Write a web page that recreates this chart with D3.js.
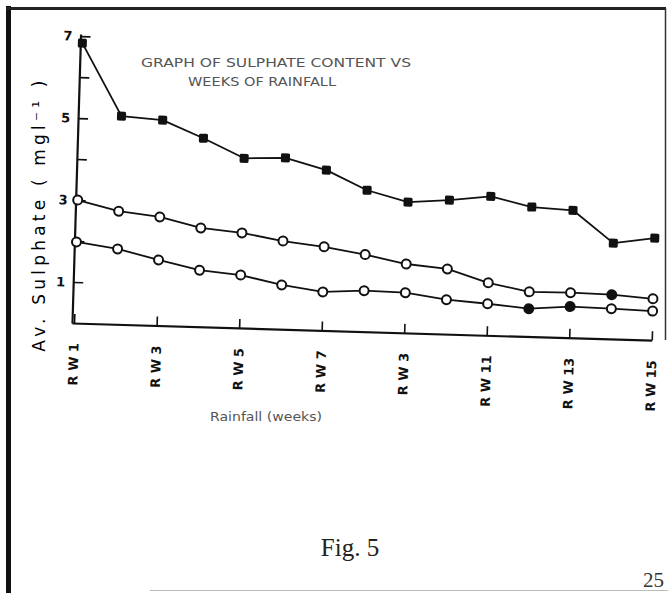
<!DOCTYPE html>
<html>
<head>
<meta charset="utf-8">
<script src="https://cdn.jsdelivr.net/npm/d3@7"></script>
<style>
  html, body { margin: 0; padding: 0; background: #fff; }
  #chart { width: 668px; height: 593px; }
</style>
</head>
<body>
<div id="chart"></div>
<script>
// weeks of rainfall and the average sulphate (mg/l)
let weeks = [1, 2, 3, 4, 5, 6, 7, 8, 9, 10, 11, 12, 13, 14, 15];
let topSeries = [6.83, 5.08, 5.01, 4.60, 4.14, 4.18, 3.91, 3.45, 3.19, 3.27, 3.39, 3.16, 3.11, 2.34, 2.49];
let midSeries = [3.00, 2.76, 2.65, 2.41, 2.32, 2.15, 2.04, 1.88, 1.68, 1.59, 1.28, 1.09, 1.10, 1.08, 1.01];
let lowSeries = [1.98, 1.84, 1.60, 1.38, 1.29, 1.08, 0.94, 1.00, 0.98, 0.84, 0.77, 0.68, 0.76, 0.74, 0.71];
// weeks whose circle is drawn solid
let midFilled = [14];
let lowFilled = [12, 13];

let tickWeeks = [1, 3, 5, 7, 9, 11, 13, 15];
let tickLabels = ["R W 1", "R W 3", "R W 5", "R W 7", "R W 3", "R W 11", "R W 13", "R W 15"];
let yTicks = [1, 2, 3, 4, 5, 6, 7];
let yLabelled = [1, 3, 5, 7];

document.addEventListener("DOMContentLoaded", function() {

  let svgWidth = 668,
      svgHeight = 593;

  let svg = d3.select("#chart")
              .append("svg")
              .attr("width", svgWidth)
              .attr("height", svgHeight)
              .attr("viewBox", `0 0 ${svgWidth} ${svgHeight}`);

  svg.append("rect").attr("width", svgWidth).attr("height", svgHeight).attr("fill", "#fff");

  // scanned page frame
  svg.append("line").attr("x1", 8.5).attr("y1", 6).attr("x2", 8.5).attr("y2", svgHeight)
    .attr("stroke", "#111").attr("stroke-width", 5);
  svg.append("line").attr("x1", 6).attr("y1", 8.5).attr("x2", 666).attr("y2", 8.5)
    .attr("stroke", "#222").attr("stroke-width", 3);
  svg.append("line").attr("x1", 665.5).attr("y1", 8).attr("x2", 665.5).attr("y2", 340)
    .attr("stroke", "#333").attr("stroke-width", 1.5);
  svg.append("line").attr("x1", 150).attr("y1", 590.5).attr("x2", svgWidth).attr("y2", 590.5)
    .attr("stroke", "#bbb").attr("stroke-width", 1);

  let originX = 72,
      originY = 323;

  let x = d3.scaleLinear().domain([0.95, 15]).range([originX, 652]);
  let y = d3.scaleLinear().domain([0, 7.05]).range([originY, originY - 7.05 * 41]);

  // the hand drawn plot sits slightly skewed on the page
  let plot = svg.append("g").attr("transform", `rotate(1.7, ${originX}, ${originY})`);

  let xAxis = d3.axisBottom(x)
    .tickValues(tickWeeks)
    .tickSizeInner(-9)
    .tickSizeOuter(0)
    .tickFormat(function(d, i) { return tickLabels[i]; });

  let gx = plot.append("g")
    .attr("transform", `translate(0, ${originY})`)
    .call(xAxis);
  gx.select(".domain").attr("stroke", "#111").attr("stroke-width", 2.2);
  gx.selectAll(".tick line").attr("stroke", "#111").attr("stroke-width", 1.6);
  gx.selectAll(".tick text")
    .attr("transform", "rotate(-90)")
    .attr("text-anchor", "end")
    .attr("x", -20)
    .attr("y", 0)
    .attr("dy", "0.35em")
    .attr("font-family", "DejaVu Sans, sans-serif")
    .attr("font-weight", "bold")
    .attr("font-size", 13)
    .attr("fill", "#111");

  let yAxis = d3.axisLeft(y)
    .tickValues(yTicks)
    .tickSizeInner(-10)
    .tickSizeOuter(0)
    .tickPadding(8)
    .tickFormat(function(d) { return yLabelled.indexOf(d) >= 0 ? d : ""; });

  let gy = plot.append("g")
    .attr("transform", `translate(${originX}, 0)`)
    .call(yAxis);
  gy.select(".domain").attr("stroke", "#111").attr("stroke-width", 2.2);
  gy.selectAll(".tick line").attr("stroke", "#111").attr("stroke-width", 1.6);
  gy.selectAll(".tick text")
    .attr("font-family", "DejaVu Sans, sans-serif")
    .attr("font-weight", "bold")
    .attr("font-size", 13)
    .attr("fill", "#111");

  let line = d3.line()
    .x(function(d, i) { return x(weeks[i]); })
    .y(function(d) { return y(d); });

  [topSeries, midSeries, lowSeries].forEach(function(series) {
    plot.append("path")
      .attr("d", line(series))
      .attr("fill", "none")
      .attr("stroke", "#111")
      .attr("stroke-width", 1.8)
      .attr("stroke-linejoin", "round");
  });

  plot.append("g").attr("class", "top-marks")
    .selectAll("rect")
    .data(topSeries)
    .enter().append("rect")
      .attr("x", function(d, i) { return x(weeks[i]) - 4.5; })
      .attr("y", function(d) { return y(d) - 4.5; })
      .attr("width", 9)
      .attr("height", 9)
      .attr("rx", 1.5)
      .attr("fill", "#111");

  function drawCircles(series, filled, cls) {
    plot.append("g").attr("class", cls)
      .selectAll("circle")
      .data(series)
      .enter().append("circle")
        .attr("cx", function(d, i) { return x(weeks[i]); })
        .attr("cy", function(d) { return y(d); })
        .attr("r", 4.5)
        .attr("fill", function(d, i) { return filled.indexOf(weeks[i]) >= 0 ? "#111" : "#fff"; })
        .attr("stroke", "#111")
        .attr("stroke-width", 2);
  }
  drawCircles(midSeries, midFilled, "mid-marks");
  drawCircles(lowSeries, lowFilled, "low-marks");

  // y axis title
  svg.append("text")
    .attr("transform", "translate(45, 214) rotate(-90)")
    .attr("text-anchor", "middle")
    .attr("font-family", "DejaVu Sans, sans-serif")
    .attr("font-size", 17)
    .attr("letter-spacing", 4.2)
    .attr("fill", "#000")
    .text("Av. Sulphate ( mgl\u207B\u00B9 )");

  // title
  svg.append("text")
    .attr("x", 141).attr("y", 67)
    .attr("textLength", 270).attr("lengthAdjust", "spacingAndGlyphs")
    .attr("font-family", "DejaVu Sans, sans-serif")
    .attr("font-size", 12)
    .attr("fill", "#555")
    .text("GRAPH OF SULPHATE CONTENT VS");
  svg.append("text")
    .attr("x", 188).attr("y", 86)
    .attr("textLength", 148).attr("lengthAdjust", "spacingAndGlyphs")
    .attr("font-family", "DejaVu Sans, sans-serif")
    .attr("font-size", 12)
    .attr("fill", "#555")
    .text("WEEKS OF RAINFALL");

  // x axis title
  svg.append("text")
    .attr("x", 210).attr("y", 421)
    .attr("textLength", 112).attr("lengthAdjust", "spacingAndGlyphs")
    .attr("font-family", "DejaVu Sans, sans-serif")
    .attr("font-size", 12)
    .attr("fill", "#555")
    .text("Rainfall (weeks)");

  svg.append("text")
    .attr("x", 350).attr("y", 556)
    .attr("text-anchor", "middle")
    .attr("font-family", "Liberation Serif, serif")
    .attr("font-size", 25)
    .attr("fill", "#222")
    .text("Fig. 5");

  svg.append("text")
    .attr("x", 643).attr("y", 587)
    .attr("font-family", "Liberation Serif, serif")
    .attr("font-size", 21)
    .attr("fill", "#333")
    .text("25");

});
</script>
</body>
</html>
